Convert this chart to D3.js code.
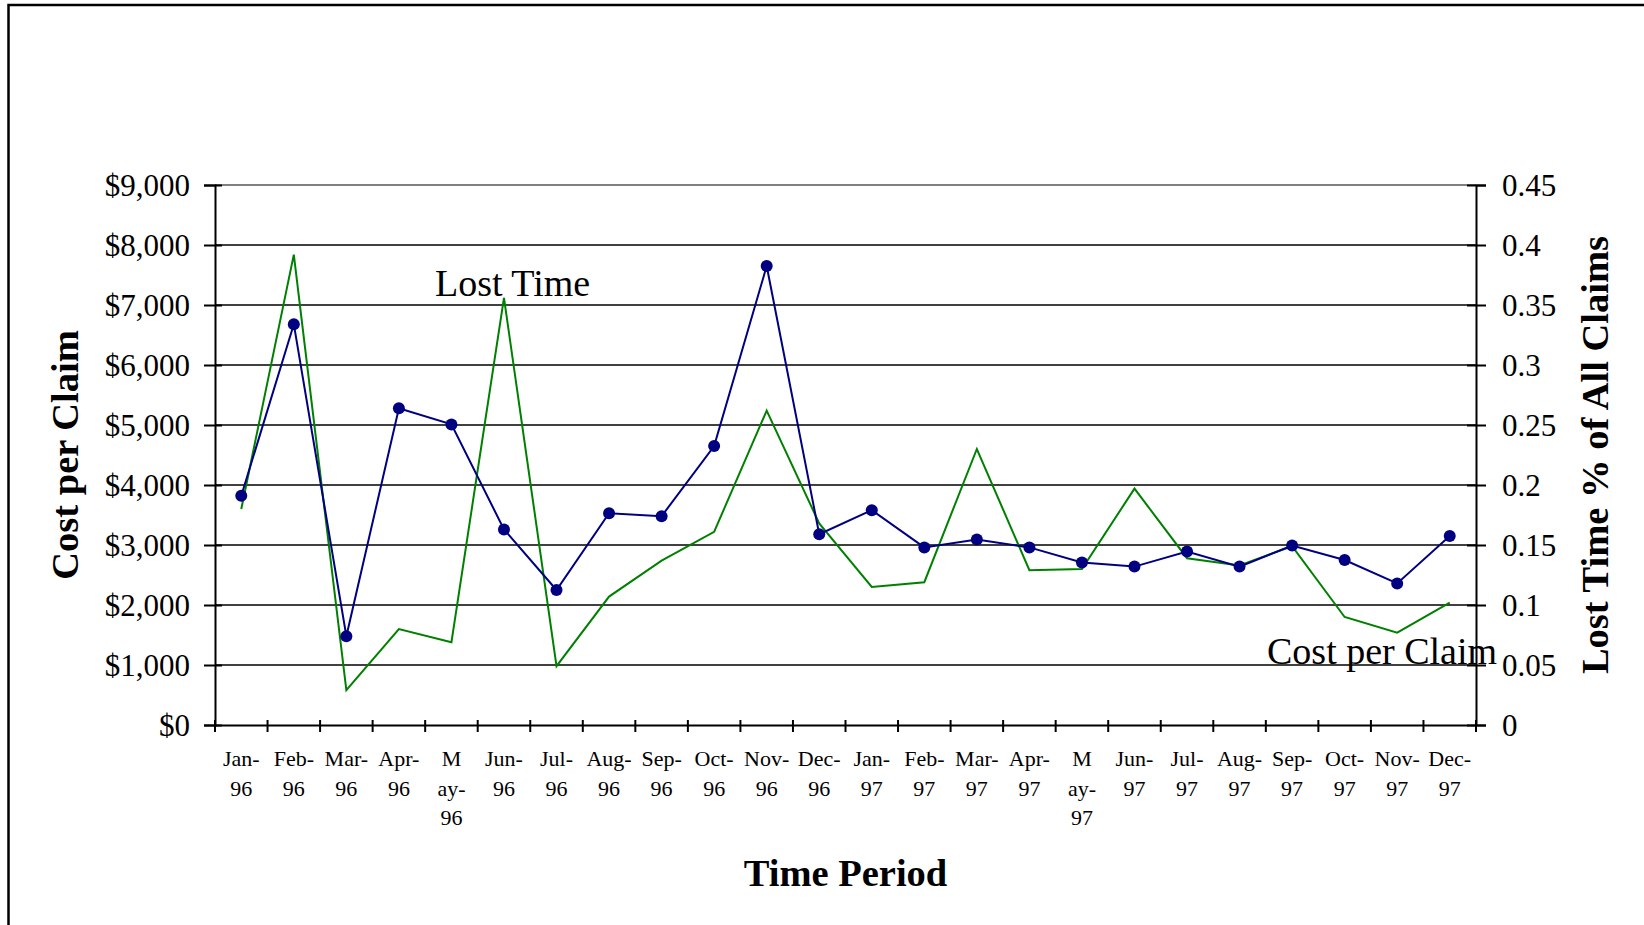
<!DOCTYPE html>
<html>
<head>
<meta charset="utf-8">
<script src="https://cdn.jsdelivr.net/npm/d3@7/dist/d3.min.js"></script>
<style>
  html, body { margin: 0; padding: 0; background: #fff; }
  svg { display: block; }
  text { font-family: "Liberation Serif", "Times New Roman", serif; fill: #000; }
</style>
</head>
<body>
<svg id="chart" width="1644" height="925"></svg>
<script>
// ---------------- data ----------------
const categories = ["Jan-96","Feb-96","Mar-96","Apr-96","May-96","Jun-96","Jul-96","Aug-96","Sep-96","Oct-96","Nov-96","Dec-96",
                    "Jan-97","Feb-97","Mar-97","Apr-97","May-97","Jun-97","Jul-97","Aug-97","Sep-97","Oct-97","Nov-97","Dec-97"];
const tickLabels = [["Jan-","96"],["Feb-","96"],["Mar-","96"],["Apr-","96"],["M","ay-","96"],["Jun-","96"],["Jul-","96"],["Aug-","96"],
                    ["Sep-","96"],["Oct-","96"],["Nov-","96"],["Dec-","96"],["Jan-","97"],["Feb-","97"],["Mar-","97"],["Apr-","97"],
                    ["M","ay-","97"],["Jun-","97"],["Jul-","97"],["Aug-","97"],["Sep-","97"],["Oct-","97"],["Nov-","97"],["Dec-","97"]];
const costPerClaim = [3820,6680,1480,5280,5010,3260,2250,3530,3480,4650,7650,3180,
                      3580,2960,3090,2960,2710,2640,2890,2640,2990,2750,2360,3150];
const lostTimePct  = [0.180,0.392,0.029,0.080,0.069,0.356,0.049,0.107,0.137,0.161,0.262,0.168,
                      0.115,0.119,0.230,0.129,0.130,0.197,0.139,0.133,0.149,0.090,0.077,0.102];
const leftTicks  = [0,1000,2000,3000,4000,5000,6000,7000,8000,9000];
const rightTicks = [0,0.05,0.1,0.15,0.2,0.25,0.3,0.35,0.4,0.45];
const rightTickLabels = ["0","0.05","0.1","0.15","0.2","0.25","0.3","0.35","0.4","0.45"];

// ---------------- layout ----------------
const svg = d3.select("#chart");
const L = 215, R = 1476, T = 185, B = 725;

svg.append("rect").attr("width",1644).attr("height",925).attr("fill","#fff");
// outer frame (only top and left edges visible)
svg.append("rect").attr("x",8.5).attr("y",5).attr("width",1700).attr("height",1000)
   .attr("fill","none").attr("stroke","#000").attr("stroke-width",2.5);

const x = d3.scaleBand().domain(categories).range([L, R]).padding(0);
const yL = d3.scaleLinear().domain([0, 9000]).range([B, T]);
const yR = d3.scaleLinear().domain([0, 0.45]).range([B, T]);
const cx = d => x(d) + x.bandwidth() / 2;

// gridlines
svg.append("g").selectAll("line").data(leftTicks.filter(v => v > 0)).join("line")
   .attr("x1", L).attr("x2", R)
   .attr("y1", d => yL(d)).attr("y2", d => yL(d))
   .attr("stroke", d => d === 9000 ? "#808080" : "#000")
   .attr("stroke-width", d => d === 9000 ? 2 : 1.3);

// left axis
const gL = svg.append("g").attr("transform", `translate(${L},0)`)
  .call(d3.axisLeft(yL).tickValues(leftTicks).tickFormat(d3.format("$,")).tickSizeOuter(0).tickSize(11).tickPadding(14));
gL.select(".domain").attr("stroke","#000").attr("stroke-width",2);
gL.selectAll(".tick line").attr("x1", 7).attr("stroke","#000").attr("stroke-width",2);
gL.selectAll(".tick text").attr("font-family","Liberation Serif").attr("font-size",31).attr("dy","0.35em");

// right axis
const gR = svg.append("g").attr("transform", `translate(${R},0)`)
  .call(d3.axisRight(yR).tickValues(rightTicks).tickFormat((d,i) => rightTickLabels[i]).tickSizeOuter(0).tickSize(10).tickPadding(16));
gR.select(".domain").attr("stroke","#000").attr("stroke-width",2);
gR.selectAll(".tick line").attr("x1", -9).attr("stroke","#000").attr("stroke-width",2);
gR.selectAll(".tick text").attr("font-family","Liberation Serif").attr("font-size",31).attr("dy","0.35em");

// bottom axis: domain + ticks at band boundaries
const gB = svg.append("g").attr("transform", `translate(0,${B})`)
  .call(d3.axisBottom(x).tickSizeOuter(0).tickSize(0).tickFormat(""));
gB.select(".domain").attr("stroke","#000").attr("stroke-width",2);
gB.selectAll(".tick").remove();
const bounds = categories.map(c => x(c)).concat([R]);
gB.selectAll("line.bt").data(bounds).join("line").attr("class","bt")
  .attr("x1", d => d).attr("x2", d => d).attr("y1", -5).attr("y2", 7)
  .attr("stroke","#000").attr("stroke-width",2);

// x tick labels (wrapped)
const xl = svg.append("g");
categories.forEach((c, i) => {
  const t = xl.append("text").attr("x", cx(c)).attr("y", 766)
    .attr("text-anchor","middle").attr("font-size",22);
  tickLabels[i].forEach((s, j) => {
    t.append("tspan").attr("x", cx(c)).attr("dy", j === 0 ? 0 : 29.5).text(s);
  });
});

// lines
const lineL = d3.line().x((d,i) => cx(categories[i])).y(d => yL(d));
const lineR = d3.line().x((d,i) => cx(categories[i])).y(d => yR(d));

svg.append("path").datum(lostTimePct).attr("d", lineR)
   .attr("fill","none").attr("stroke","#008000").attr("stroke-width",2);
svg.append("path").datum(costPerClaim).attr("d", lineL)
   .attr("fill","none").attr("stroke","#000080").attr("stroke-width",2);
svg.append("g").selectAll("circle").data(costPerClaim).join("circle")
   .attr("cx", (d,i) => cx(categories[i])).attr("cy", d => yL(d)).attr("r", 6)
   .attr("fill","#000080");

// annotations
svg.append("text").attr("x", 435).attr("y", 296).attr("font-size",38).text("Lost Time");
svg.append("text").attr("x", 1267).attr("y", 664).attr("font-size",38).text("Cost per Claim");

// axis titles
svg.append("text").attr("transform","translate(78,455) rotate(-90)").attr("text-anchor","middle")
   .attr("font-size",38.5).attr("font-weight","bold").text("Cost per Claim");
svg.append("text").attr("transform","translate(1608,455) rotate(-90)").attr("text-anchor","middle")
   .attr("font-size",38.5).attr("font-weight","bold").text("Lost Time % of All Claims");
svg.append("text").attr("x", (L+R)/2).attr("y", 886).attr("text-anchor","middle")
   .attr("font-size",38.5).attr("font-weight","bold").text("Time Period");
</script>
</body>
</html>
